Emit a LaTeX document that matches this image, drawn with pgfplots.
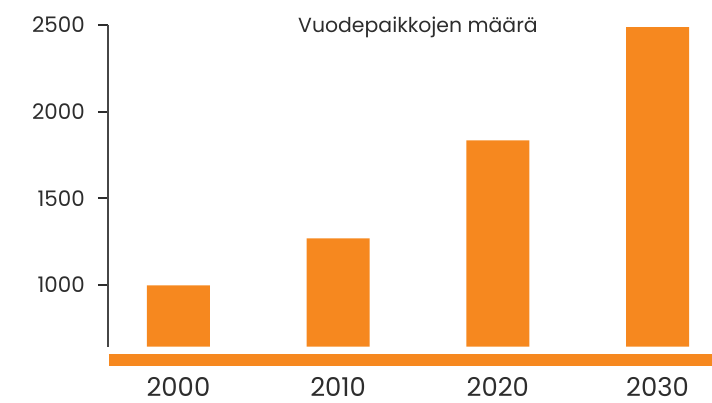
\documentclass[border=0pt]{standalone}
\usepackage{pgfplots}
\pgfplotsset{compat=1.18}
\usepackage{fontspec}
\setmainfont{Poppins}
\definecolor{barorange}{RGB}{246,136,31}
\definecolor{txt}{RGB}{45,45,45}
\definecolor{axgray}{RGB}{70,70,70}
\begin{document}
\begin{tikzpicture}
\path[use as bounding box] (0,0) rectangle (712bp,403bp);
\begin{axis}[
  at={(108bp,56.3bp)}, anchor=south west,
  scale only axis, width=604bp, height=321.7bp,
  xmin=-0.441, xmax=3.341, ymin=643, ymax=2500,
  axis x line*=bottom, axis y line*=left,
  x axis line style={draw=none},
  y axis line style={draw=axgray, line width=1.2bp},
  xtick={0,1,2,3}, xticklabels={2000,2010,2020,2030},
  ytick={1000,1500,2000,2500},
  x tick style={draw=none},
  y tick style={draw=txt, line width=2bp},
  tick align=outside,
  major tick length=10bp,
  xticklabel style={anchor=base, inner sep=0pt, yshift=-39.5bp, font=\fontsize{26}{26}\selectfont, text=txt},
  yticklabel style={anchor=east, inner sep=0pt, xshift=-13bp, font=\fontsize{21.5}{21.5}\selectfont, text=txt,
    /pgf/number format/assume math mode=true, /pgf/number format/set thousands separator={}},
  clip=false,
]
\addplot[ybar, bar width=63bp, fill=barorange, draw=none, bar shift=0pt] coordinates {(0,997) (1,1268) (2,1834) (3,2488)};
\addplot[barorange, line width=11.4bp, line cap=butt] coordinates {(-0.435,566) (3.341,566)};
\node[anchor=base, font=\fontsize{20.5}{20.5}\selectfont, text=txt] at (axis cs:1.5,2454) {Vuodepaikkojen määrä};
\end{axis}
\end{tikzpicture}
\end{document}
